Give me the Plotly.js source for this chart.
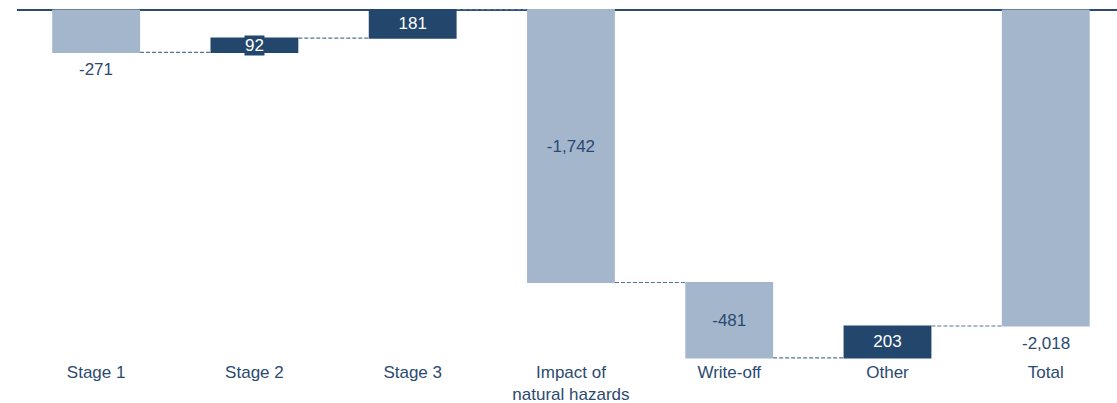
<!DOCTYPE html>
<html>
<head>
<meta charset="utf-8">
<script src="https://cdn.plot.ly/plotly-3.0.1.min.js"></script>
<style>html,body{margin:0;padding:0;background:#fff;}#chart{width:1117px;height:403px;}</style>
</head>
<body>
<div id="chart"></div>
<script>
const categories = ["Stage 1", "Stage 2", "Stage 3", "Impact of<br>natural hazards", "Write-off", "Other", "Total"];
const values = [-271, 92, 181, -1742, -481, 203, -2018];
const measures = ["relative", "relative", "relative", "relative", "relative", "relative", "total"];
const textPositions = ["below", "box", "inside", "inside", "inside", "inside", "below"];

const LIGHT = "#A4B6CC";
const DARK = "#23466D";
const TEXT = "#2B4A70";
const FONT = "Liberation Sans, Arial, sans-serif";

const labels = values.map(v => v.toLocaleString("en-US"));
const texts = labels.map((t, i) => textPositions[i] === "inside" ? t : "");
const inColors = values.map((v, i) => (measures[i] !== "total" && v > 0) ? "#FFFFFF" : TEXT);

// running totals -> bar middles and bar ends
let run = 0;
const mids = [], ends = [];
values.forEach((v, i) => {
  if (measures[i] === "total") { mids.push(v / 2); ends.push(v); return; }
  mids.push(run + v / 2); run += v; ends.push(run);
});

const annotations = [];
textPositions.forEach((p, i) => {
  if (p === "box") {
    annotations.push({
      x: i, y: mids[i], xref: "x", yref: "y", text: labels[i], showarrow: false,
      font: {family: FONT, size: 17, color: "#FFFFFF"},
      bgcolor: DARK, borderpad: 0, xanchor: "center", yanchor: "middle"
    });
  } else if (p === "below") {
    annotations.push({
      x: i, y: ends[i], xref: "x", yref: "y", text: labels[i], showarrow: false,
      font: {family: FONT, size: 17, color: TEXT},
      xanchor: "center", yanchor: "top", yshift: -6
    });
  }
});

const trace = {
  type: "waterfall",
  x: categories.map((c, i) => i),
  y: values,
  measure: measures,
  text: texts,
  textposition: "inside",
  insidetextanchor: "middle",
  constraintext: "none",
  cliponaxis: false,
  insidetextfont: {family: FONT, size: 17, color: inColors},
  increasing: {marker: {color: DARK}},
  decreasing: {marker: {color: LIGHT}},
  totals: {marker: {color: LIGHT}},
  connector: {mode: "between", line: {color: "#56739A", width: 1.2, dash: "4px,2px"}},
  width: 0.555,
  hoverinfo: "skip"
};

const layout = {
  width: 1117, height: 403,
  margin: {l: 17, r: 0, t: 5, b: 43},
  paper_bgcolor: "#fff", plot_bgcolor: "#fff",
  showlegend: false,
  font: {family: FONT, size: 17, color: TEXT},
  xaxis: {
    range: [-0.5, 6.45], tickmode: "array", tickvals: categories.map((c, i) => i), ticktext: categories,
    showgrid: false, zeroline: false, showline: false, ticks: "",
    tickfont: {family: FONT, size: 17, color: TEXT}
  },
  yaxis: {
    range: [-2235, 31.9], showgrid: false, showticklabels: false, ticks: "",
    zeroline: true, zerolinecolor: "#2A4B74", zerolinewidth: 2.5, showline: false
  },
  annotations: annotations
};

Plotly.newPlot("chart", [trace], layout, {displayModeBar: false, staticPlot: true});
</script>
</body>
</html>
